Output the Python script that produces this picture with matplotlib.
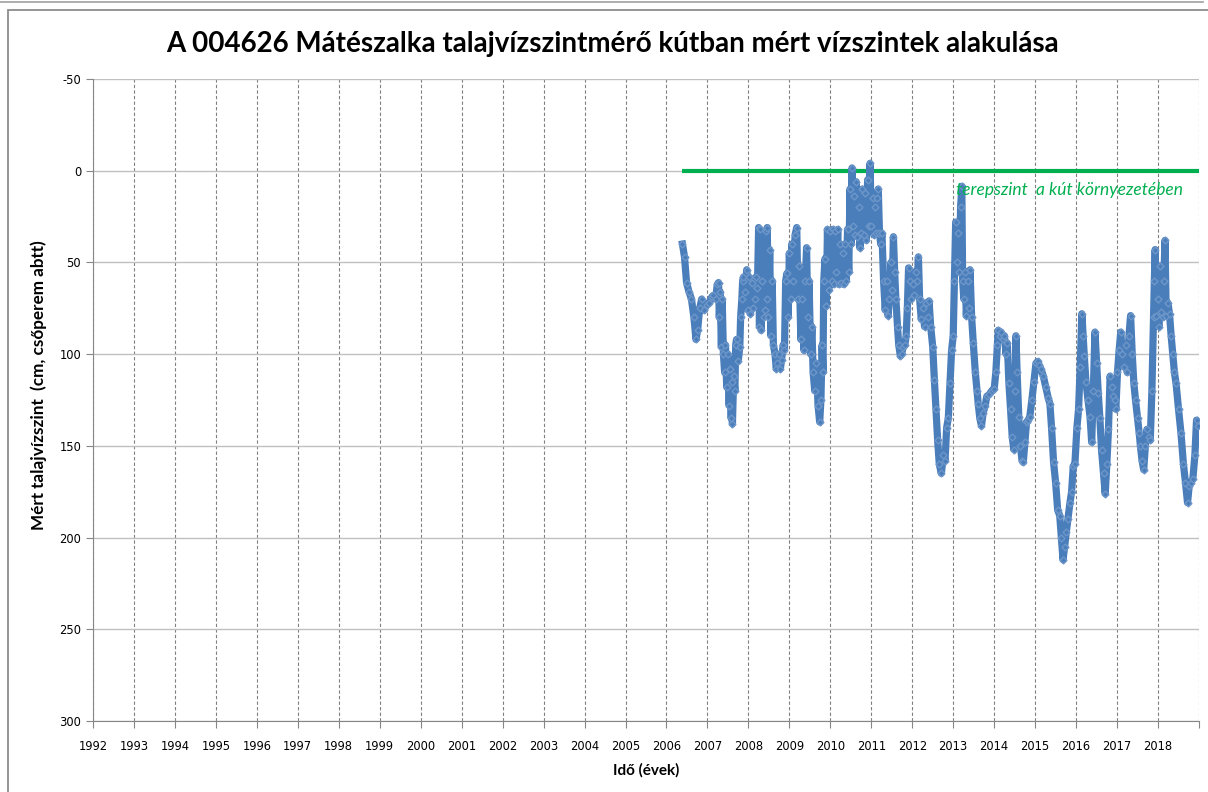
import matplotlib
matplotlib.use("Agg")
from matplotlib import pyplot as plt
from matplotlib.patches import Rectangle
from matplotlib.lines import Line2D

title = "A 004626 Mátészalka talajvízszintmérő kútban mért vízszintek alakulása"
ylabel = "Mért talajvízszint  (cm, csőperem abtt)"
xlabel = "Idő (évek)"
ground_label = "terepszint  a kút környezetében"

year_ticks = list(range(1992, 2020))
year_labels = [str(y) if y < 2019 else "" for y in year_ticks]
level_ticks = [-50, 0, 50, 100, 150, 200, 250, 300]

# terrain level line (0 cm)
ground_x = [2006.39, 2019.0]
ground_y = [0, 0]

t = [2006.39, 2006.44, 2006.49, 2006.55, 2006.61, 2006.67, 2006.72, 2006.76, 2006.81, 2006.86,
     2006.92, 2006.98, 2007.05, 2007.10, 2007.14, 2007.20, 2007.24, 2007.27, 2007.29, 2007.31,
     2007.34, 2007.36, 2007.39, 2007.42, 2007.44, 2007.47, 2007.50, 2007.53, 2007.55, 2007.58,
     2007.60, 2007.61, 2007.64, 2007.67, 2007.69, 2007.71, 2007.75, 2007.79, 2007.81, 2007.84,
     2007.86, 2007.88, 2007.92, 2007.96, 2007.99, 2008.02, 2008.05, 2008.08, 2008.11, 2008.15,
     2008.18, 2008.22, 2008.25, 2008.27, 2008.29, 2008.31, 2008.34, 2008.37, 2008.40, 2008.43,
     2008.45, 2008.46, 2008.49, 2008.52, 2008.55, 2008.58, 2008.61, 2008.65, 2008.68, 2008.71,
     2008.75, 2008.78, 2008.81, 2008.85, 2008.88, 2008.91, 2008.94, 2008.97, 2009.00, 2009.03,
     2009.06, 2009.10, 2009.14, 2009.18, 2009.21, 2009.24, 2009.28, 2009.32, 2009.36, 2009.39,
     2009.42, 2009.45, 2009.48, 2009.52, 2009.55, 2009.58, 2009.62, 2009.66, 2009.70, 2009.74,
     2009.77, 2009.80, 2009.82, 2009.84, 2009.87, 2009.90, 2009.93, 2009.96, 2010.00, 2010.03,
     2010.06, 2010.09, 2010.12, 2010.15, 2010.18, 2010.21, 2010.24, 2010.27, 2010.30, 2010.33,
     2010.36, 2010.39, 2010.42, 2010.45, 2010.48, 2010.51, 2010.53, 2010.56, 2010.58, 2010.61,
     2010.63, 2010.66, 2010.69, 2010.72, 2010.75, 2010.78, 2010.81, 2010.84, 2010.88, 2010.91,
     2010.95, 2010.97, 2011.00, 2011.03, 2011.06, 2011.09, 2011.12, 2011.15, 2011.17, 2011.20,
     2011.23, 2011.26, 2011.30, 2011.34, 2011.38, 2011.41, 2011.44, 2011.48, 2011.51, 2011.54,
     2011.57, 2011.60, 2011.64, 2011.67, 2011.71, 2011.74, 2011.78, 2011.82, 2011.85, 2011.88,
     2011.91, 2011.95, 2011.98, 2012.02, 2012.05, 2012.08, 2012.12, 2012.15, 2012.18, 2012.22,
     2012.26, 2012.30, 2012.34, 2012.38, 2012.41, 2012.45, 2012.50, 2012.54, 2012.58, 2012.62,
     2012.66, 2012.71, 2012.76, 2012.80, 2012.84, 2012.88, 2012.92, 2012.96, 2013.00, 2013.03,
     2013.06, 2013.09, 2013.12, 2013.15, 2013.18, 2013.21, 2013.23, 2013.26, 2013.29, 2013.32,
     2013.36, 2013.39, 2013.41, 2013.45, 2013.49, 2013.54, 2013.58, 2013.61, 2013.65, 2013.69,
     2013.73, 2013.78, 2013.82, 2013.88, 2013.94, 2014.00, 2014.04, 2014.08, 2014.10, 2014.13,
     2014.17, 2014.21, 2014.25, 2014.29, 2014.32, 2014.36, 2014.40, 2014.44, 2014.48, 2014.51,
     2014.53, 2014.56, 2014.60, 2014.64, 2014.68, 2014.71, 2014.75, 2014.79, 2014.83, 2014.87,
     2014.92, 2014.97, 2015.02, 2015.06, 2015.10, 2015.14, 2015.20, 2015.26, 2015.32, 2015.36,
     2015.40, 2015.45, 2015.50, 2015.55, 2015.60, 2015.64, 2015.68, 2015.72, 2015.76, 2015.80,
     2015.85, 2015.89, 2015.93, 2015.97, 2016.02, 2016.06, 2016.10, 2016.14, 2016.17, 2016.20,
     2016.24, 2016.29, 2016.34, 2016.38, 2016.42, 2016.46, 2016.50, 2016.54, 2016.58, 2016.62,
     2016.67, 2016.71, 2016.75, 2016.79, 2016.83, 2016.87, 2016.91, 2016.94, 2016.97, 2017.01,
     2017.05, 2017.09, 2017.13, 2017.17, 2017.21, 2017.25, 2017.29, 2017.33, 2017.37, 2017.41,
     2017.45, 2017.50, 2017.54, 2017.57, 2017.61, 2017.65, 2017.69, 2017.73, 2017.77, 2017.81,
     2017.85, 2017.89, 2017.91, 2017.93, 2017.96, 2017.99, 2018.02, 2018.05, 2018.08, 2018.11,
     2018.14, 2018.17, 2018.20, 2018.24, 2018.28, 2018.32, 2018.36, 2018.40, 2018.44, 2018.50,
     2018.56, 2018.62, 2018.67, 2018.72, 2018.76, 2018.80, 2018.85, 2018.90, 2018.94, 2018.97]
level = [40, 47, 61, 66, 70, 80, 92, 87, 75, 70,
         76, 73, 72, 69, 68, 70, 62, 61, 80, 66,
         96, 70, 100, 110, 95, 118, 100, 128, 108, 135,
         115, 138, 112, 120, 95, 92, 104, 96, 80, 70,
         60, 58, 66, 54, 76, 58, 78, 61, 75, 70,
         58, 64, 31, 85, 32, 87, 60, 80, 76, 33,
         70, 31, 80, 43, 90, 60, 95, 100, 108, 105,
         100, 108, 103, 95, 98, 60, 56, 80, 45, 70,
         40, 60, 35, 31, 70, 52, 92, 70, 98, 60,
         42, 80, 60, 100, 85, 110, 120, 105, 128, 137,
         125, 95, 110, 60, 48, 74, 32, 65, 33, 60,
         32, 62, 33, 55, 32, 62, 40, 61, 45, 62,
         40, 60, 32, 55, 10, 40, -1.5, 30, 14, 35,
         6, 36, 20, 42, 34, 10, 35, 12, 38, 5,
         30, -4, 30, 15, 35, 20, 34, 15, 10, 34,
         40, 34, 60, 76, 60, 79, 70, 50, 65, 36,
         55, 70, 85, 95, 101, 100, 96, 95, 90, 75,
         53, 60, 70, 62, 68, 55, 60, 47, 70, 81,
         75, 85, 72, 80, 71, 85, 96, 114, 130, 147,
         160, 165, 155, 158, 140, 135, 116, 98, 90, 60,
         28, 50, 34, 55, 20, 8.5, 60, 70, 55, 79,
         60, 75, 54, 80, 94, 110, 120, 127, 135, 139,
         132, 128, 123, 122, 120, 119, 110, 95, 87, 90,
         88, 92, 90, 100, 94, 116, 130, 145, 152, 120,
         90, 110, 134, 150, 158, 159, 148, 137, 136, 134,
         125, 115, 105, 104, 106, 108, 112, 118, 124, 127,
         140, 159, 170, 185, 188, 200, 212, 205, 197, 190,
         181, 175, 161, 160, 140, 130, 107, 78, 90, 101,
         115, 125, 134, 148, 120, 88, 105, 121, 135, 152,
         165, 176, 160, 141, 112, 118, 123, 125, 130, 110,
         98, 88, 100, 107, 95, 110, 90, 79, 100, 116,
         125, 135, 143, 150, 158, 163, 150, 141, 145, 147,
         120, 80, 60, 43, 79, 70, 85, 52, 77, 80,
         60, 38, 79, 72, 78, 90, 100, 110, 116, 130,
         143, 160, 170, 181, 172, 170, 168, 155, 136, 139]

plt.rcParams['font.family'] = ['DejaVu Sans']

fig = plt.figure(figsize=(12.08, 7.92), dpi=100)
ax = fig.add_axes([93 / 1208, 1 - 721 / 792, (1199 - 93) / 1208, (721 - 79) / 792])

# chart frame like the spreadsheet chart area
fig.patches.append(Rectangle((8 / 1208, -0.05), 1.2, 1 - 10 / 792 + 0.05, transform=fig.transFigure,
                             fill=False, edgecolor="#8c8c8c", lw=1.3))
fig.lines.append(Line2D([0, 1203 / 1208], [1 - 2 / 792, 1 - 2 / 792], transform=fig.transFigure,
                        color="#a0a0a0", lw=1.2))

ax.set_xlim(1992, 2019)
ax.set_ylim(300, -50)
ax.set_xticks(year_ticks)
ax.set_xticklabels(year_labels, fontsize=8.3)
ax.set_yticks(level_ticks)
ax.set_yticklabels([str(v) for v in level_ticks], fontsize=8.3)

ax.grid(axis="y", color="#c0c0c0", lw=1.0, ls="-")
ax.grid(axis="x", color="#808080", lw=0.8, ls=(0, (3, 2)))
ax.set_axisbelow(True)

for s in ["top", "right"]:
    ax.spines[s].set_visible(False)
for s in ["left", "bottom"]:
    ax.spines[s].set_color("#868686")
ax.tick_params(axis="both", colors="#868686", labelcolor="black", length=5, width=0.8)
ax.tick_params(axis="x", pad=9)

ax.plot(ground_x, ground_y, color="#00b050", lw=3, solid_capstyle="butt", zorder=3)
ax.plot(t, level, color="#4a7ebb", lw=5.2, marker="D", ms=3.5, mec="#6d96c9", mfc="#4a7ebb",
        solid_joinstyle="round", zorder=4)

ax.text(2015.85, 10.5, ground_label, color="#00b050", fontsize=12.5, style="italic",
        family=["Lato", "DejaVu Sans"], ha="center", va="center", zorder=5)

fig.text(612 / 1208, 1 - 44 / 792, title, fontsize=20, fontweight="bold",
         family=["Lato", "DejaVu Sans"], ha="center", va="center")
ax.set_xlabel(xlabel, fontsize=11, fontweight="bold", family=["Lato", "DejaVu Sans"])
ax.xaxis.set_label_coords((646 - 93) / 1106, -(763 - 721) / 642)
ax.set_ylabel(ylabel, fontsize=12.3, fontweight="bold", family=["Lato", "DejaVu Sans"])
ax.yaxis.set_label_coords(-(93 - 47) / 1106, (721 - 385) / 642)

fig.savefig("out.png", dpi=100)
